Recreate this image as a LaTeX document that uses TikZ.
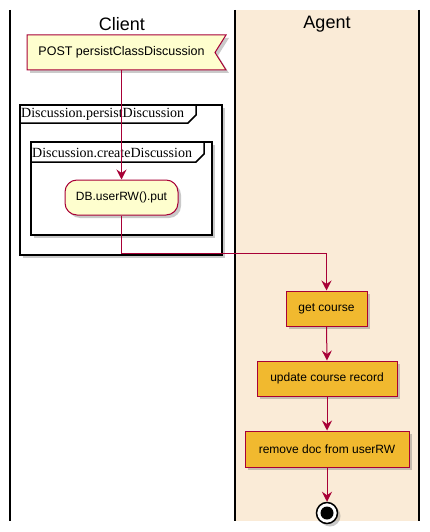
\documentclass[tikz,border=0pt]{standalone}
\usepackage{fontspec}
\setmainfont{Liberation Sans}
\newfontfamily\framefont{Liberation Serif}
\usetikzlibrary{shadows,arrows.meta,calc}
\definecolor{umlred}{HTML}{A80036}
\definecolor{umlyel}{HTML}{FEFECE}
\definecolor{umlorg}{HTML}{F1B92F}
\definecolor{lanebg}{HTML}{FAEBD7}
\tikzset{
  shad/.style={drop shadow={shadow xshift=3pt,shadow yshift=-3pt,opacity=0.35,fill=black!60}},
  actbox/.style={draw=umlred,fill=umlorg,line width=1pt,inner sep=0pt,font=\fontsize{12}{14}\selectfont,shad},
  flow/.style={draw=umlred,line width=1pt,-{Stealth[length=10pt,width=10pt,inset=3.5pt]}},
  lane/.style={line width=1.5pt,black},
  framebox/.style={draw=black,line width=1.5pt,fill=white,shad},
}
\begin{document}
\begin{tikzpicture}[x=1pt,y=-1pt]
\useasboundingbox (0,0) rectangle (429,532);
% lanes
\fill[lanebg] (235,10) rectangle (419,521);
\draw[lane] (10,10) -- (10,521);
\draw[lane] (235,10) -- (235,521);
\draw[lane] (419,10) -- (419,521);
\node[font=\fontsize{18}{20}\selectfont] (tclient) at (122,24) {Client};
\node[font=\fontsize{18}{20}\selectfont] (tagent) at (327,24) {Agent};
% signal
\path[draw=umlred,fill=umlyel,line width=1pt,shad] (27,35) -- (226,35) -- (215,52.5) -- (226,70) -- (27,70) -- cycle;
\node[inner sep=0pt,minimum height=35pt,font=\fontsize{12.5}{14}\selectfont] (sig) at (121.5,52.5) {POST persistClassDiscussion};
% outer frame
\path[framebox] (20,105) rectangle (222,255);
\draw[line width=1.5pt] (20,123) -- (188,123) -- (196,115) -- (196,105);
\node[anchor=west,inner sep=0pt,font=\framefont\fontsize{14}{16}\selectfont] (f1) at (21,114.5) {Discussion.persistDiscussion};
% inner frame
\path[framebox] (31,142) rectangle (212,235);
\draw[line width=1.5pt] (31,162) -- (196,162) -- (204,154) -- (204,142);
\node[anchor=west,inner sep=0pt,font=\framefont\fontsize{14}{16}\selectfont] (f2) at (32,152.5) {Discussion.createDiscussion};
% DB node
\node[draw=umlred,fill=umlyel,line width=1pt,rounded corners=12pt,minimum width=113pt,minimum height=35pt,inner sep=0pt,font=\fontsize{12}{14}\selectfont,shad] (db) at (121.5,197.5) {DB.userRW().put};
% agent actions
\node[actbox,minimum width=81pt,minimum height=35pt] (gc) at (326.5,308.5) {get course};
\node[actbox,minimum width=140pt,minimum height=35pt] (uc) at (327,378.5) {update course record};
\node[actbox,minimum width=164pt,minimum height=36pt] (rd) at (327,449) {remove doc from userRW};
% end
\node[circle,draw=black,line width=1.5pt,fill=white,minimum size=21pt,inner sep=0pt,shad] (end) at (327,513) {};
\fill[black] (end.center) circle (6.5pt);
% flows
\draw[flow] (sig.south) -- (db.north);
\draw[flow] (db.south) -- (db.south |- 0,253) -| (gc.north);
\draw[flow] (gc.south) -- (uc.north);
\draw[flow] (uc.south) -- (rd.north);
\draw[flow] (rd.south) -- (end.north);
\end{tikzpicture}
\end{document}
